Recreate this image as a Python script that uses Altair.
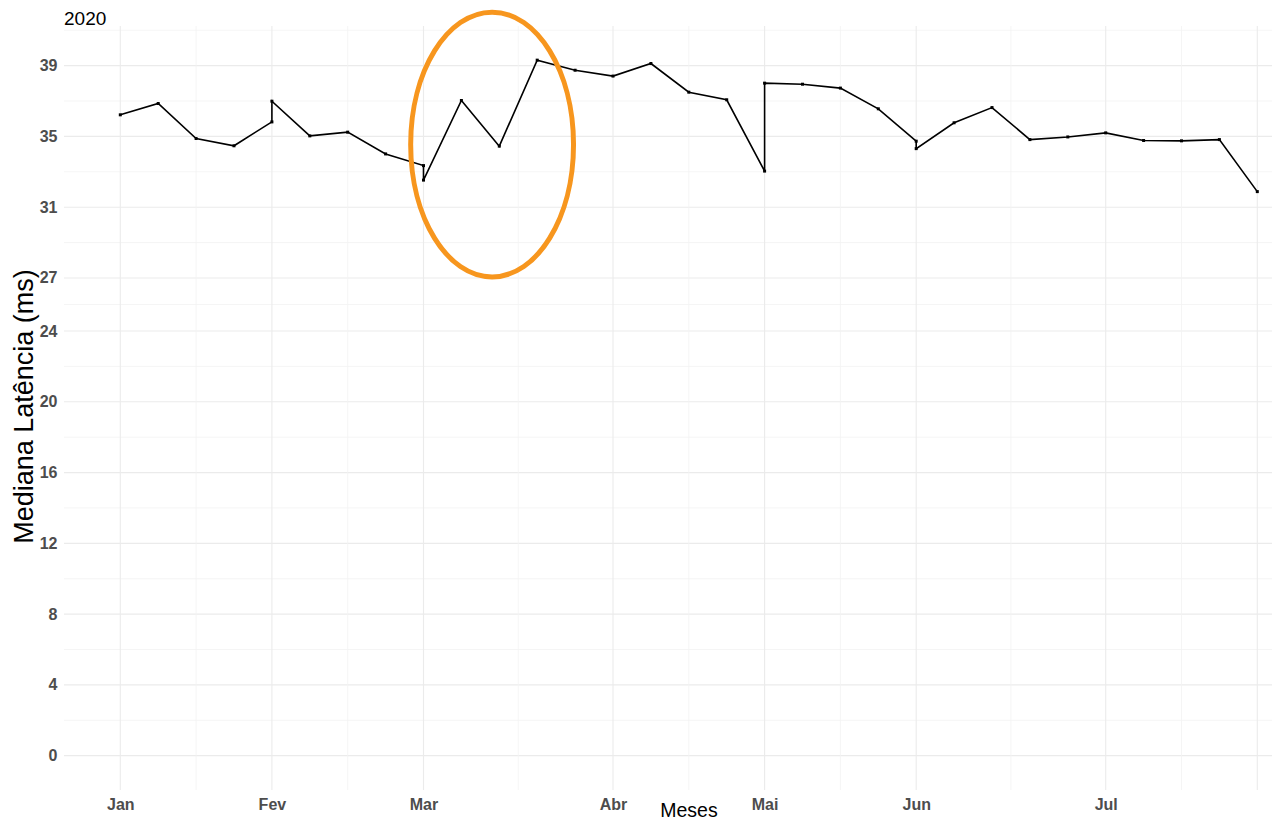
import altair as alt
import pandas as pd

# ---- data ----
semana = [0, 1, 2, 3, 4, 4, 5, 6, 7, 8, 8, 9, 10, 11, 12, 13, 14, 15, 16, 17, 17,
          18, 19, 20, 21, 21, 22, 23, 24, 25, 26, 27, 28, 29, 30]
latencia = [36.22, 36.86, 34.88, 34.47, 35.82, 36.99, 35.03, 35.24, 34.01, 33.35, 32.53,
            37.03, 34.45, 39.31, 38.74, 38.41, 39.12, 37.50, 37.07, 33.04, 38.01,
            37.95, 37.73, 36.56, 34.73, 34.31, 35.77, 36.63, 34.82, 34.97, 35.20,
            34.77, 34.75, 34.82, 31.88]

mes_pos = [0, 4, 8, 13, 17, 21, 26]
mes_nome = ["Jan", "Fev", "Mar", "Abr", "Mai", "Jun", "Jul"]
x_grid_major = [0, 4, 8, 13, 17, 21, 26, 30]
x_grid_minor = [2, 6, 10.5, 15, 19, 23.5, 28]

y_ticks = [0, 4, 8, 12, 16, 20, 24, 27, 31, 35, 39]
y_grid_minor = [2, 6, 10, 14, 18, 22, 25.5, 29, 33, 37, 41]

titulo = ["2020"]

# highlighted region (ellipse annotation): centre in data units
destaque_x = [9.81]
destaque_y = [34.54]

FONT = "Liberation Sans"

df = pd.DataFrame({"semana": semana, "latencia": latencia, "ordem": list(range(len(semana)))})

xscale = alt.Scale(domain=[-1.4855, 30.388], nice=False, zero=False)
yscale = alt.Scale(domain=[-1.94, 41.24], nice=False, zero=False)

label_expr = "{" + ",".join(f"'{p}':'{n}'" for p, n in zip(mes_pos, mes_nome)) + "}[datum.value]"

xaxis = alt.Axis(values=mes_pos, labelExpr=label_expr, grid=False, ticks=False, domain=False,
                 labelFont=FONT, labelFontSize=16, labelFontWeight="bold", labelColor="#4D4D4D",
                 labelPadding=6, title="Meses", titleFont=FONT, titleFontSize=19.5,
                 titleFontWeight="normal", titleColor="black", titleX=624.5, titleY=26,
                 titleBaseline="alphabetic", titleAlign="center")
yaxis = alt.Axis(values=y_ticks, grid=False, ticks=False, domain=False,
                 labelFont=FONT, labelFontSize=16, labelFontWeight="bold", labelColor="#4D4D4D",
                 labelPadding=7, title="Mediana Latência (ms)", titleFont=FONT, titleFontSize=27,
                 titleFontWeight="normal", titleColor="black", titleAngle=270, titleX=-32,
                 titleY=380, titleBaseline="alphabetic", titleAlign="center")

X = lambda f: alt.X(f, scale=xscale, axis=xaxis)
Y = lambda f: alt.Y(f, scale=yscale, axis=yaxis)

hmaj = alt.Chart(pd.DataFrame({"v": y_ticks})).mark_rule(color="#EBEBEB", strokeWidth=1.1).encode(y=Y("v:Q"))
hmin = alt.Chart(pd.DataFrame({"v": y_grid_minor})).mark_rule(color="#F2F2F2", strokeWidth=0.8).encode(y=Y("v:Q"))
vmaj = alt.Chart(pd.DataFrame({"v": x_grid_major})).mark_rule(color="#EBEBEB", strokeWidth=1.1).encode(x=X("v:Q"))
vmin = alt.Chart(pd.DataFrame({"v": x_grid_minor})).mark_rule(color="#F2F2F2", strokeWidth=0.8).encode(x=X("v:Q"))

line = alt.Chart(df).mark_line(color="black", strokeWidth=1.6).encode(
    x=X("semana:Q"), y=Y("latencia:Q"), order="ordem:Q")
pts = alt.Chart(df).mark_point(shape="square", filled=True, color="black", size=9, opacity=1).encode(
    x=X("semana:Q"), y=Y("latencia:Q"))

a = 0.615
k = 0.5523
ellipse_path = (f"M 0 -1 C {k*a:.4f} -1 {a} {-k} {a} 0 C {a} {k} {k*a:.4f} 1 0 1 "
                f"C {-k*a:.4f} 1 {-a} {k} {-a} 0 C {-a} {-k} {-k*a:.4f} -1 0 -1 Z")
ell = alt.Chart(pd.DataFrame({"x": destaque_x, "y": destaque_y})).mark_point(
    shape=ellipse_path, filled=False, stroke="#F7961E", strokeWidth=5, size=70120, opacity=1
).encode(x=X("x:Q"), y=Y("y:Q"))

title = alt.Chart(pd.DataFrame({"t": titulo})).mark_text(
    font=FONT, fontSize=19, color="black", align="left", baseline="alphabetic"
).encode(text="t:N", x=alt.value(0), y=alt.value(-1))

chart = alt.layer(hmin, hmaj, vmin, vmaj, line, pts, ell, title).properties(
    width=1208, height=764,
    background="white",
    autosize=alt.AutoSizeParams(type="none"),
    padding={"left": 56, "top": 18, "right": 0, "bottom": 31},
).configure_view(stroke=None)

chart.save("out.html", embed_options={"renderer": "svg", "actions": False})
